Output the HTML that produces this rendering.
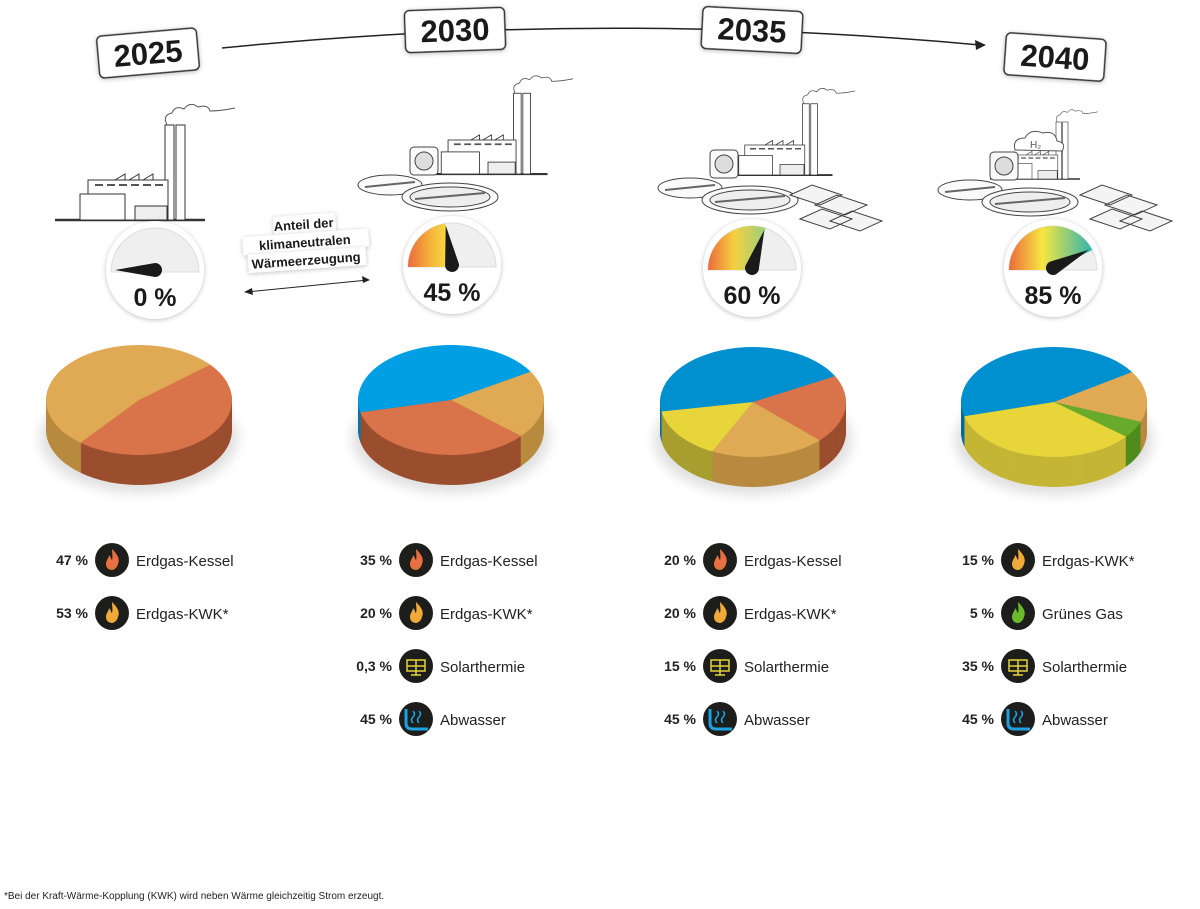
<!DOCTYPE html>
<html><head><meta charset="utf-8">
<style>
html,body{margin:0;padding:0;background:#fff;}
body{width:1200px;height:904px;overflow:hidden;font-family:"Liberation Sans",sans-serif;}
</style></head>
<body>
<svg id="s" width="1200" height="904" viewBox="0 0 1200 904" xmlns="http://www.w3.org/2000/svg" font-family="Liberation Sans, sans-serif">
<defs>
<filter id="sh" x="-30%" y="-30%" width="160%" height="160%"><feDropShadow dx="0" dy="1" stdDeviation="2.5" flood-color="#000" flood-opacity="0.25"/></filter>
<filter id="ps" x="-20%" y="-20%" width="140%" height="160%"><feGaussianBlur stdDeviation="6"/></filter>
<linearGradient id="g1" x1="0" x2="1"><stop offset="0" stop-color="#ec6a3c"/><stop offset="0.5" stop-color="#f5b23a"/><stop offset="1" stop-color="#f7e641"/></linearGradient>
<linearGradient id="g2" x1="0" x2="1"><stop offset="0" stop-color="#ec6a3c"/><stop offset="0.45" stop-color="#f5d040"/><stop offset="1" stop-color="#9bd07a"/></linearGradient>
<linearGradient id="g3" x1="0" x2="1"><stop offset="0" stop-color="#ec6a3c"/><stop offset="0.4" stop-color="#f7e641"/><stop offset="1" stop-color="#2fb3b0"/></linearGradient>
<g id="fac" fill="#fff" stroke="#333" stroke-width="1">
  <path d="M0 40 L150 40" stroke-width="2.5"/>
  <rect x="110" y="-55" width="9" height="95"/><rect x="121" y="-55" width="9" height="95"/>
  <path d="M112 -55 q-5 -10 5 -12 q3 -8 12 -4 q6 -8 14 -2 q10 -3 12 4 q10 0 25 -3" fill="none" stroke="#555"/>
  <rect x="33" y="0" width="80" height="40"/>
  <path d="M60 0 l10 -6 v6 M74 0 l10 -6 v6 M88 0 l10 -6 v6" fill="none"/>
  <rect x="25" y="14" width="45" height="26"/>
  <rect x="80" y="26" width="32" height="14" fill="#eee"/>
  <path d="M40 5h8 M52 5h8 M64 5h8 M76 5h8 M88 5h8 M100 5h8" stroke="#555" stroke-width="2"/>
</g>
<g id="sew" fill="#fafafa" stroke="#444" stroke-width="1">
  <ellipse cx="30" cy="0" rx="32" ry="10"/>
  <ellipse cx="90" cy="12" rx="48" ry="14"/><ellipse cx="90" cy="12" rx="40" ry="10" fill="#eee"/>
  <path d="M55 14 L125 8 M5 2 L55 -3" stroke="#666" stroke-width="2"/>
  <rect x="50" y="-38" width="28" height="28" rx="4"/><circle cx="64" cy="-24" r="9" fill="#ddd"/>
</g>
<g id="pv" fill="#f4f4f4" stroke="#444" stroke-width="1">
  <path d="M0 0 l22 -10 l30 10 l-22 10z M25 10 l22 -10 l30 10 l-22 10z M10 24 l22 -10 l30 10 l-22 10z M40 26 l22 -10 l30 10 l-22 10z"/>
</g>
</defs>

<path d="M222 48 Q600 10 980 45" fill="none" stroke="#222" stroke-width="1.5"/>
<path d="M986 45 l-11 -5 l1 10z" fill="#222"/>

<g font-weight="bold" font-size="31" text-anchor="middle" fill="#1a1a1a">
<g transform="translate(148,53) rotate(-5)"><rect x="-50" y="-21" width="100" height="42" rx="5" fill="#fff" stroke="#333" stroke-width="1.5" filter="url(#sh)"/><text y="11">2025</text></g>
<g transform="translate(455,30) rotate(-2)"><rect x="-50" y="-21" width="100" height="42" rx="5" fill="#fff" stroke="#333" stroke-width="1.5" filter="url(#sh)"/><text y="11">2030</text></g>
<g transform="translate(752,30) rotate(3)"><rect x="-50" y="-21" width="100" height="42" rx="5" fill="#fff" stroke="#333" stroke-width="1.5" filter="url(#sh)"/><text y="11">2035</text></g>
<g transform="translate(1055,57) rotate(4)"><rect x="-50" y="-21" width="100" height="42" rx="5" fill="#fff" stroke="#333" stroke-width="1.5" filter="url(#sh)"/><text y="11">2040</text></g>
</g>

<use href="#fac" transform="translate(55,180)"/>
<use href="#fac" transform="translate(420,140) scale(0.85)"/>
<use href="#sew" transform="translate(360,185)"/>
<use href="#fac" transform="translate(720,145) scale(0.75)"/>
<use href="#sew" transform="translate(660,188)"/>
<use href="#pv" transform="translate(790,195)"/>
<use href="#fac" transform="translate(990,155) scale(0.6)"/>
<use href="#sew" transform="translate(940,190)"/>
<use href="#pv" transform="translate(1080,195)"/>
<path d="M1015 150 q-3 -12 10 -12 q5 -10 18 -5 q12 -3 14 8 q10 2 5 10z" fill="#fff" stroke="#555"/>
<text x="1030" y="148" font-size="10" fill="#555">H₂</text>

<g transform="translate(305,245) rotate(-4)" font-weight="bold" font-size="13" text-anchor="middle" fill="#1a1a1a">
<rect x="-30" y="-30" width="62" height="18" fill="#fff" filter="url(#sh)"/><text y="-16">Anteil der</text>
<rect x="-62" y="-12" width="126" height="18" fill="#fff" filter="url(#sh)"/><text y="2">klimaneutralen</text>
<rect x="-58" y="6" width="118" height="18" fill="#fff" filter="url(#sh)"/><text y="20">Wärmeerzeugung</text>
</g>
<path d="M246 292 L368 280" stroke="#222" stroke-width="1"/>
<path d="M244 292 l8 -4 l1 7z M370 280 l-8 -4 l1 7z" fill="#222"/>

<g id="pies"></g>
<g id="gauges"></g>
<g font-size="15" fill="#222" id="leg"></g>

<text x="4" y="899" font-size="10" fill="#222">*Bei der Kraft-Wärme-Kopplung (KWK) wird neben Wärme gleichzeitig Strom erzeugt.</text>
</svg>
<script>
var NS="http://www.w3.org/2000/svg";
function el(p,t,a,txt){var e=document.createElementNS(NS,t);for(var k in a)e.setAttribute(k,a[k]);if(txt!=null)e.textContent=txt;p.appendChild(e);return e;}
var C={b:["#009fe3","#0077ad"],b2:["#0090cf","#006b9c"],o:["#d9744a","#9a4e2e"],t:["#e0aa55","#b88a3f"],y:["#e8d53a","#c4b535"],y2:["#e8d53a","#a89e30"],g:["#6aaa2a","#4f8a1c"]};
var pies=[
 {cx:139,cy:400,s:[["o",320,489],["t",129,320]]},
 {cx:451,cy:400,s:[["b",167,329],["t",329,401],["o",41,167]]},
 {cx:753,cy:402,s:[["b2",170,332],["o",332,404],["t",44,116],["y2",116,170]]},
 {cx:1054,cy:402,s:[["b2",165,327],["t",327,381],["g",21,39],["y",39,165]]}
];
var rx=93,ry=55,d=30,P=document.getElementById("pies");
function sec(cx,cy,a,b){var r=Math.PI/180,x1=cx+rx*Math.cos(a*r),y1=cy+ry*Math.sin(a*r),x2=cx+rx*Math.cos(b*r),y2=cy+ry*Math.sin(b*r);var la=((b-a+360)%360)>180?1:0;return "M"+cx+" "+cy+"L"+x1+" "+y1+"A"+rx+" "+ry+" 0 "+la+" 1 "+x2+" "+y2+"Z";}
pies.forEach(function(p){
 el(P,"ellipse",{cx:p.cx,cy:p.cy+d+8,rx:rx+6,ry:ry,fill:"#000",opacity:0.12,filter:"url(#ps)"});
 for(var o=d;o>0;o-=1)p.s.forEach(function(s){el(P,"path",{d:sec(p.cx,p.cy+o,s[1],s[2]),fill:C[s[0]][1]});});
 p.s.forEach(function(s){el(P,"path",{d:sec(p.cx,p.cy,s[1],s[2]),fill:C[s[0]][0]});});
});
var G=document.getElementById("gauges");
var gs=[[155,270,0,"0 %",null],[452,265,0.45,"45 %","url(#g1)"],[752,268,0.6,"60 %","url(#g2)"],[1053,268,0.85,"85 %","url(#g3)"]];
gs.forEach(function(g){
 var x=g[0],y=g[1];
 el(G,"circle",{cx:x,cy:y,r:49,fill:"#fff",filter:"url(#sh)"});
 el(G,"path",{d:"M"+(x-44)+" "+(y+2)+"A44 44 0 0 1 "+(x+44)+" "+(y+2)+"Z",fill:"#efefef",stroke:"#ddd"});
 var ang=Math.PI*(1-g[2]);
 if(g[4]){var ex=x+44*Math.cos(ang),ey=y+2-44*Math.sin(ang);
  el(G,"path",{d:"M"+x+" "+(y+2)+"L"+(x-44)+" "+(y+2)+"A44 44 0 0 1 "+ex+" "+ey+"Z",fill:g[4]});}
 var nx=x+40*Math.cos(ang),ny=y-40*Math.sin(ang),px=-Math.sin(ang),py=-Math.cos(ang);
 el(G,"path",{d:"M"+nx+" "+ny+"L"+(x+7*px)+" "+(y+7*py)+"A7 7 0 1 0 "+(x-7*px)+" "+(y-7*py)+"Z",fill:"#1a1a1a"});
 el(G,"text",{x:x,y:y+36,"text-anchor":"middle","font-size":25,"font-weight":"bold",fill:"#1a1a1a"},g[3]);
});
var L=document.getElementById("leg");
var rows=[560,613,666,719];
var legs=[
 [112,[["47 %","f","Erdgas-Kessel"],["53 %","k","Erdgas-KWK*"]]],
 [416,[["35 %","f","Erdgas-Kessel"],["20 %","k","Erdgas-KWK*"],["0,3 %","s","Solarthermie"],["45 %","w","Abwasser"]]],
 [720,[["20 %","f","Erdgas-Kessel"],["20 %","k","Erdgas-KWK*"],["15 %","s","Solarthermie"],["45 %","w","Abwasser"]]],
 [1018,[["15 %","k","Erdgas-KWK*"],["5 %","g","Grünes Gas"],["35 %","s","Solarthermie"],["45 %","w","Abwasser"]]]
];
legs.forEach(function(c){var x=c[0];c[1].forEach(function(r,i){var y=rows[i];
 el(L,"text",{x:x-24,y:y+5,"text-anchor":"end","font-weight":"bold","font-size":14},r[0]);
 el(L,"circle",{cx:x,cy:y,r:17,fill:"#1d1d1b"});
 var t=r[1];
 if(t=="f"||t=="k"||t=="g"){var col=t=="f"?"#e8703f":t=="k"?"#f2a93b":"#6aba2e";
  el(L,"path",{d:"M"+x+" "+(y-11)+"c6 6 8 10 6 15c-1 4 -4 6 -6 6c-3 0 -6 -2 -6 -6c0 -4 3 -6 3 -9c2 2 2 4 3 5c1 -4 0 -7 0 -11z",fill:col});}
 if(t=="s"){el(L,"rect",{x:x-9,y:y-6,width:18,height:11,fill:"none",stroke:"#e6d23a","stroke-width":1.5});el(L,"path",{d:"M"+(x-9)+" "+y+"h18M"+x+" "+(y-6)+"v11M"+x+" "+(y+5)+"v4M"+(x-5)+" "+(y+9)+"h10",stroke:"#e6d23a","stroke-width":1.5});}
 if(t=="w"){el(L,"path",{d:"M"+(x-10)+" "+(y-10)+"v14q0 6 6 6h16",fill:"none",stroke:"#1da1e0","stroke-width":3});el(L,"path",{d:"M"+(x-3)+" "+(y-8)+"q3 3 0 6q-3 3 0 6M"+(x+3)+" "+(y-8)+"q3 3 0 6q-3 3 0 6",fill:"none",stroke:"#1da1e0","stroke-width":1.5});}
 el(L,"text",{x:x+24,y:y+6},r[2]);
});});
</script>
</body></html>
